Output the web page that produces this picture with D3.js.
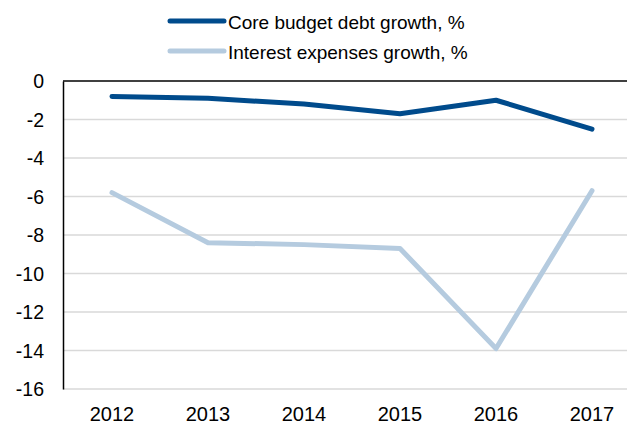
<!DOCTYPE html>
<html>
<head>
<meta charset="utf-8">
<script src="https://cdn.jsdelivr.net/npm/d3@7"></script>
<style>
  html, body { margin: 0; padding: 0; background: #fff; }
  svg { display: block; }
  text { font-family: "Liberation Sans", Arial, sans-serif; fill: #000; }
</style>
</head>
<body>
<svg id="chart" width="627" height="424"></svg>
<script>
// Years on the category axis
const years = ["2012", "2013", "2014", "2015", "2016", "2017"];
// Growth rates, %
const coreDebtGrowth = [-0.8, -0.9, -1.2, -1.7, -1.0, -2.5];
const interestGrowth = [-5.8, -8.4, -8.5, -8.7, -13.9, -5.7];
const yTicks = [0, -2, -4, -6, -8, -10, -12, -14, -16];

const seriesNames = ["Core budget debt growth, %", "Interest expenses growth, %"];
const seriesColors = ["#004b8c", "#b5cbdf"];

const svg = d3.select("#chart");
const margin = { left: 63, right: -13, top: 81, bottom: 35 };
const W = 627, H = 424;

const x = d3.scalePoint()
  .domain(years)
  .range([margin.left + 49, W - margin.right - 48]);

const y = d3.scaleLinear()
  .domain([-16, 0])
  .range([H - margin.bottom, margin.top]);

// Horizontal gridlines
svg.append("g")
  .selectAll("line")
  .data(yTicks.filter(d => d !== 0))
  .join("line")
  .attr("x1", margin.left)
  .attr("x2", W)
  .attr("y1", d => y(d))
  .attr("y2", d => y(d))
  .attr("stroke", "#d9d9d9")
  .attr("stroke-width", 1.3);

// Y axis with labels on the left
const yAxis = d3.axisLeft(y).tickValues(yTicks).tickSize(0).tickPadding(19)
  .tickFormat(d => d3.format("d")(d).replace("−", "-"));
const gy = svg.append("g")
  .attr("transform", `translate(${margin.left},0)`)
  .call(yAxis);
gy.select(".domain").attr("stroke", "#000").attr("stroke-width", 1.5);
gy.selectAll("text").style("font-size", "19.5px").attr("dy", "0.35em");

// Category axis sits on the zero line; labels below the plot
svg.append("line")
  .attr("x1", margin.left).attr("x2", W)
  .attr("y1", y(0)).attr("y2", y(0))
  .attr("stroke", "#000").attr("stroke-width", 1.5);

svg.append("g")
  .selectAll("text")
  .data(years)
  .join("text")
  .attr("x", d => x(d))
  .attr("y", y(-16) + 32)
  .attr("text-anchor", "middle")
  .style("font-size", "20px")
  .text(d => d);

// Series lines
const line = d3.line()
  .x((d, i) => x(years[i]))
  .y(d => y(d));

[interestGrowth, coreDebtGrowth].forEach((vals, k) => {
  const color = k === 0 ? seriesColors[1] : seriesColors[0];
  svg.append("path")
    .datum(vals)
    .attr("d", line)
    .attr("fill", "none")
    .attr("stroke", color)
    .attr("stroke-width", 5)
    .attr("stroke-linejoin", "round")
    .attr("stroke-linecap", "round");
});

// Legend
const legend = svg.append("g");
seriesNames.forEach((name, i) => {
  const ly = 21 + i * 30;
  legend.append("line")
    .attr("x1", 170).attr("x2", 224)
    .attr("y1", ly).attr("y2", ly)
    .attr("stroke", seriesColors[i])
    .attr("stroke-width", 5)
    .attr("stroke-linecap", "round");
  legend.append("text")
    .attr("x", 228)
    .attr("y", ly + 7.5)
    .style("font-size", "19px")
    .text(name);
});
</script>
</body>
</html>
